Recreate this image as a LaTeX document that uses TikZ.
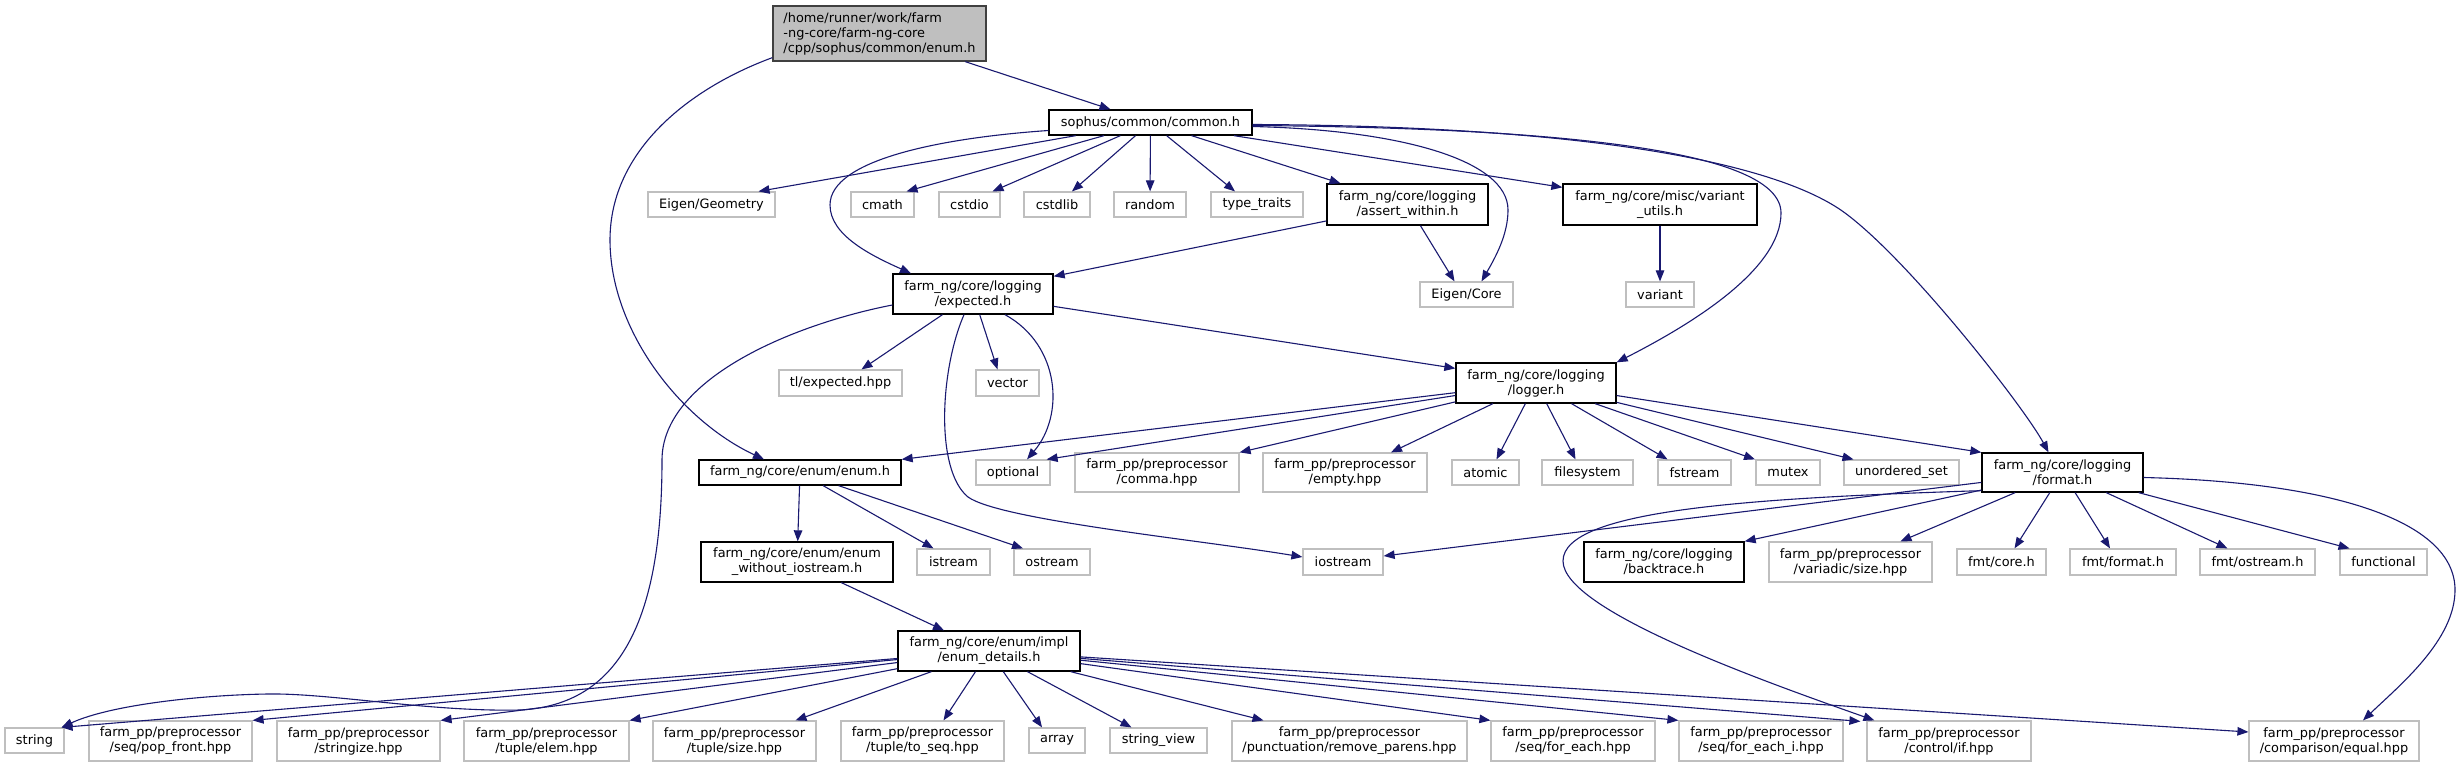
\documentclass[tikz,border=0pt]{standalone}
\usepackage{fontspec}
\setmainfont{DejaVu Sans}
\usetikzlibrary{arrows.meta,calc}
\definecolor{edgec}{RGB}{25,25,112}
\definecolor{extc}{RGB}{191,191,191}
\definecolor{rootfill}{RGB}{191,191,191}
\definecolor{rootdraw}{RGB}{64,64,64}
\newcommand\bxn[7]{\node[#6, minimum width={(#4-#2)*1pt}, minimum height={(#5-#3)*1pt}] (#1) at ({(#2+#4)/2},{(#3+#5)/2}) {#7};}
\tikzset{
 base/.style={rectangle, inner sep=0pt, align=center, font=\fontsize{12.9}{15}\selectfont, text=black},
 extbox/.style={base, draw=extc, fill=white, line width=1.2pt},
 intbox/.style={base, draw=black, fill=white, line width=1.3pt},
 rootbox/.style={base, align=left, draw=rootdraw, fill=rootfill, line width=1.3pt},
 edge/.style={draw=edgec, line width=1.1pt, -{Triangle[length=11pt,width=8.5pt]}},
}
\begin{document}
\begin{tikzpicture}[x=1pt,y=-1pt]
\fill[white] (0,0) rectangle (2459,767);
\useasboundingbox (0,0) rectangle (2459,767);
% nodes
\bxn{R}{773}{6}{986}{61}{rootbox}{/home/runner/work/farm\\-ng-core/farm-ng-core\\/cpp/sophus/common/enum.h}
\bxn{CH}{1049}{110}{1252}{135}{intbox}{sophus/common/common.h}
\bxn{EG}{648}{192}{775}{217}{extbox}{Eigen/Geometry}
\bxn{CM}{851}{192}{914}{217}{extbox}{cmath}
\bxn{CSI}{939}{192}{1000}{217}{extbox}{cstdio}
\bxn{CSL}{1024}{192}{1090}{217}{extbox}{cstdlib}
\bxn{RND}{1114}{192}{1186}{217}{extbox}{random}
\bxn{TT}{1211}{192}{1303}{217}{extbox}{type\_traits}
\bxn{AW}{1327}{184}{1488}{225}{intbox}{farm\_ng/core/logging\\/assert\_within.h}
\bxn{VU}{1563}{184}{1757}{225}{intbox}{farm\_ng/core/misc/variant\\\_utils.h}
\bxn{EC}{1420}{282}{1513}{307}{extbox}{Eigen/Core}
\bxn{VAR}{1626}{282}{1694}{307}{extbox}{variant}
\bxn{EX}{893}{274}{1053}{314}{intbox}{farm\_ng/core/logging\\/expected.h}
\bxn{TLE}{779}{370}{902}{396}{extbox}{tl/expected.hpp}
\bxn{VEC}{976}{370}{1039}{396}{extbox}{vector}
\bxn{LG}{1456}{363}{1616}{403}{intbox}{farm\_ng/core/logging\\/logger.h}
\bxn{EH}{699}{460}{901}{485}{intbox}{farm\_ng/core/enum/enum.h}
\bxn{OPT}{976}{460}{1050}{485}{extbox}{optional}
\bxn{COM}{1075}{453}{1239}{492}{extbox}{farm\_pp/preprocessor\\/comma.hpp}
\bxn{EMP}{1263}{453}{1427}{492}{extbox}{farm\_pp/preprocessor\\/empty.hpp}
\bxn{ATO}{1452}{460}{1519}{485}{extbox}{atomic}
\bxn{FS}{1542}{460}{1633}{485}{extbox}{filesystem}
\bxn{FST}{1658}{460}{1731}{485}{extbox}{fstream}
\bxn{MTX}{1756}{460}{1820}{485}{extbox}{mutex}
\bxn{US}{1844}{460}{1959}{485}{extbox}{unordered\_set}
\bxn{FMT}{1982}{453}{2143}{492}{intbox}{farm\_ng/core/logging\\/format.h}
\bxn{EW}{701}{542}{893}{582}{intbox}{farm\_ng/core/enum/enum\\\_without\_iostream.h}
\bxn{IS}{917}{549}{990}{575}{extbox}{istream}
\bxn{OS}{1014}{549}{1090}{575}{extbox}{ostream}
\bxn{IOS}{1303}{549}{1383}{575}{extbox}{iostream}
\bxn{BT}{1584}{542}{1744}{582}{intbox}{farm\_ng/core/logging\\/backtrace.h}
\bxn{VS}{1769}{542}{1932}{582}{extbox}{farm\_pp/preprocessor\\/variadic/size.hpp}
\bxn{FC}{1957}{549}{2046}{575}{extbox}{fmt/core.h}
\bxn{FF}{2070}{549}{2176}{575}{extbox}{fmt/format.h}
\bxn{FO}{2200}{549}{2315}{575}{extbox}{fmt/ostream.h}
\bxn{FUN}{2340}{549}{2427}{575}{extbox}{functional}
\bxn{ED}{898}{631}{1080}{671}{intbox}{farm\_ng/core/enum/impl\\/enum\_details.h}
\bxn{STR}{5}{728}{64}{753}{extbox}{string}
\bxn{PF}{89}{721}{252}{761}{extbox}{farm\_pp/preprocessor\\/seq/pop\_front.hpp}
\bxn{SZ}{277}{721}{440}{761}{extbox}{farm\_pp/preprocessor\\/stringize.hpp}
\bxn{TE}{464}{721}{629}{761}{extbox}{farm\_pp/preprocessor\\/tuple/elem.hpp}
\bxn{TS}{653}{721}{816}{761}{extbox}{farm\_pp/preprocessor\\/tuple/size.hpp}
\bxn{TSQ}{841}{721}{1004}{761}{extbox}{farm\_pp/preprocessor\\/tuple/to\_seq.hpp}
\bxn{ARR}{1029}{728}{1085}{753}{extbox}{array}
\bxn{SV}{1110}{728}{1207}{753}{extbox}{string\_view}
\bxn{RP}{1232}{721}{1467}{761}{extbox}{farm\_pp/preprocessor\\/punctuation/remove\_parens.hpp}
\bxn{FE}{1491}{721}{1655}{761}{extbox}{farm\_pp/preprocessor\\/seq/for\_each.hpp}
\bxn{FEI}{1679}{721}{1843}{761}{extbox}{farm\_pp/preprocessor\\/seq/for\_each\_i.hpp}
\bxn{IF}{1867}{721}{2031}{761}{extbox}{farm\_pp/preprocessor\\/control/if.hpp}
\bxn{EQ}{2249}{721}{2419}{761}{extbox}{farm\_pp/preprocessor\\/comparison/equal.hpp}
% edges from root
\draw[edge] (R) -- (CH);
\draw[edge] ($(R.south west)+(0,-4)$) .. controls (690,88) and (610,150) .. (610,240) .. controls (610,330) and (680,420) .. ($(EH.north)+(-36,0)$);
% edges from common.h
\draw[edge] (CH) -- ($(EG.north)+(47,0)$);
\draw[edge] (CH) -- ($(CM.north)+(24,0)$);
\draw[edge] (CH) -- ($(CSI.north)+(23,0)$);
\draw[edge] (CH) -- ($(CSL.north)+(15,0)$);
\draw[edge] (CH) -- (RND);
\draw[edge] (CH) -- ($(TT.north)+(-22,0)$);
\draw[edge] (CH) -- ($(AW.north)+(-67,0)$);
\draw[edge] (CH) -- ($(VU.north west)+(0,4)$);
\draw[edge] ($(CH.east)+(0,4)$) .. controls (1400,130) and (1508,160) .. (1508,210) .. controls (1508,235) and (1495,258) .. ($(EC.north)+(15,0)$);
\draw[edge] ($(CH.east)+(0,3)$) .. controls (1560,128) and (1781,150) .. (1781,213) .. controls (1781,270) and (1690,325) .. (LG.north east);
\draw[edge] ($(CH.east)+(0,2)$) .. controls (1600,126) and (1780,165) .. (1845,213) .. controls (1910,261) and (2024,407) .. ($(FMT.north)+(-14,0)$);
\draw[edge] ($(CH.west)+(0,8)$) .. controls (940,138) and (830,160) .. (830,205) .. controls (830,235) and (870,255) .. ($(EX.north)+(-62,0)$);
% assert_within, variant_utils
\draw[edge] (AW) -- ($(EX.north east)+(0,3)$);
\draw[edge] (AW) -- ($(EC.north)+(-12,0)$);
\draw[edge] (VU) -- (VAR);
% expected.h
\draw[edge] (EX) -- ($(TLE.north)+(21,0)$);
\draw[edge] (EX) -- ($(VEC.north)+(-10,0)$);
\draw[edge] (EX) -- ($(LG.north west)+(0,6)$);
\draw[edge] ($(EX.south)+(32,0)$) .. controls (1060,345) and (1065,415) .. ($(OPT.north)+(14,0)$);
\draw[edge] ($(EX.south)+(-9,0)$) .. controls (940,370) and (935,470) .. (968,497) .. controls (1000,520) and (1200,540) .. ($(IOS.west)+(0,-5)$);
\draw[edge] ($(EX.west)+(0,11)$) .. controls (790,325) and (662,380) .. (662,460) .. controls (662,620) and (620,705) .. (520,710) .. controls (430,712) and (330,693) .. (268,694) .. controls (200,695) and (110,705) .. ($(STR.north east)+(-3,0)$);
% logger.h
\draw[edge] (LG) -- (EH.north east);
\draw[edge] (LG) -- ($(OPT.north east)+(-4,0)$);
\draw[edge] (LG) -- (COM.north east);
\draw[edge] (LG) -- ($(EMP.north)+(46,0)$);
\draw[edge] (LG) -- ($(ATO.north)+(11,0)$);
\draw[edge] (LG) -- ($(FS.north)+(-12,0)$);
\draw[edge] (LG) -- ($(FST.north)+(-27,0)$);
\draw[edge] (LG) -- ($(MTX.north)+(-33,0)$);
\draw[edge] (LG) -- ($(US.north)+(-48,0)$);
\draw[edge] (LG) -- (FMT.north west);
% format.h
\draw[edge] (FMT) -- ($(IOS.east)+(0,-6)$);
\draw[edge] (FMT) -- (BT.north east);
\draw[edge] (FMT) -- ($(VS.north)+(50,0)$);
\draw[edge] (FMT) -- ($(FC.north)+(13,0)$);
\draw[edge] (FMT) -- ($(FF.north)+(-13,0)$);
\draw[edge] (FMT) -- ($(FO.north)+(-30,0)$);
\draw[edge] (FMT) -- ($(FUN.north)+(-34,0)$);
\draw[edge] ($(FMT.south west)+(0,-2)$) .. controls (1750,498) and (1563,510) .. (1563,561) .. controls (1563,610) and (1760,680) .. ($(IF.north west)+(8,0)$);
\draw[edge] ($(FMT.east)+(0,5)$) .. controls (2330,482) and (2455,520) .. (2455,590) .. controls (2455,640) and (2400,685) .. ($(EQ.north)+(29,0)$);
% enum.h
\draw[edge] (EH) -- (EW);
\draw[edge] (EH) -- ($(IS.north)+(-20,0)$);
\draw[edge] (EH) -- ($(OS.north)+(-29,0)$);
\draw[edge] (EW) -- ($(ED.north)+(-45,0)$);
% enum_details.h
\draw[edge] (ED) -- ($(STR.north east)+(-3,0)$);
\draw[edge] (ED) -- (PF.north east);
\draw[edge] (ED) -- (SZ.north east);
\draw[edge] (ED) -- (TE.north east);
\draw[edge] (ED) -- ($(TS.north)+(61,0)$);
\draw[edge] (ED) -- ($(TSQ.north)+(21,0)$);
\draw[edge] (ED) -- ($(ARR.north)+(-15,0)$);
\draw[edge] (ED) -- ($(SV.north)+(-27,0)$);
\draw[edge] (ED) -- ($(RP.north)+(-86,0)$);
\draw[edge] (ED) -- (FE.north west);
\draw[edge] (ED) -- (FEI.north west);
\draw[edge] (ED) -- ($(IF.north west)+(-6,1)$);
\draw[edge] (ED) -- ($(EQ.west)+(0,-9)$);
\end{tikzpicture}
\end{document}
